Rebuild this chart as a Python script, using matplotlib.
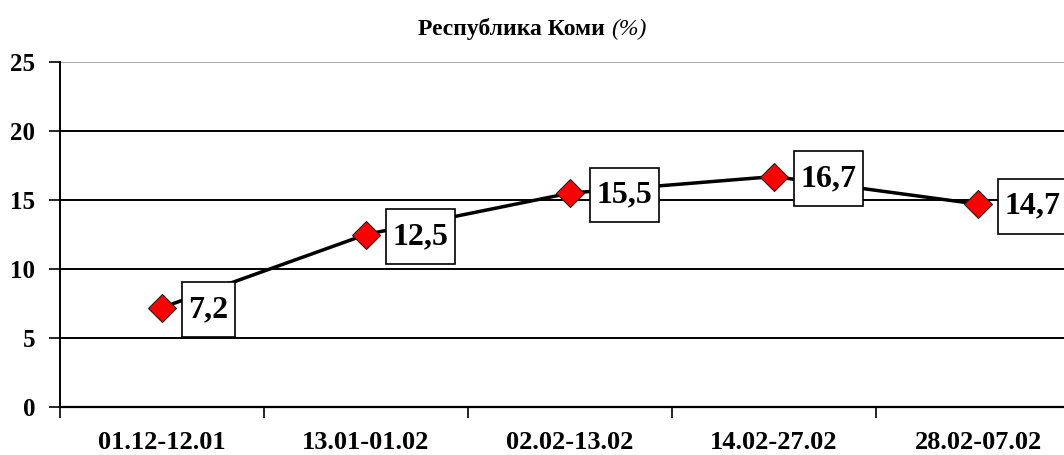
import matplotlib.pyplot as plt
from matplotlib.path import Path

periods = ["01.12-12.01", "13.01-01.02", "02.02-13.02", "14.02-27.02", "28.02-07.02"]
values = [7.2, 12.5, 15.5, 16.7, 14.7]
yticks = [0, 5, 10, 15, 20, 25]

plt.rcParams["font.family"] = ["Liberation Serif", "DejaVu Serif"]


def tall_box(x0, y0, width, height, mutation_size):
    # label box with more room above and below the number than at its sides
    px, py = 0.2 * mutation_size, 0.4 * mutation_size
    l, b, r, t = x0 - px, y0 - py, x0 + width + px, y0 + height + py
    return Path([(l, b), (r, b), (r, t), (l, t), (l, b)], closed=True)


fig = plt.figure(figsize=(10.64, 4.55), dpi=100)
# plot area runs past the right edge of the picture, as in the original
ax = fig.add_axes([60 / 1064, 48 / 455, 1020 / 1064, 345 / 455])

x = list(range(len(periods)))
ax.plot(x, values, color="black", lw=2.5, zorder=3,
        marker="D", ms=14, mfc="#ff0000", mec="#222222", mew=0.8)

for xi, v in zip(x, values):
    ax.annotate(f"{v:.1f}".replace(".", ","), (xi, v), xytext=(19, -1.5),
                textcoords="offset points", ha="left", va="center",
                fontsize=23, fontweight="bold", zorder=5,
                bbox=dict(boxstyle=tall_box, fc="white", ec="black", lw=1.2))

ax.set_xlim(-0.5, len(periods) - 0.5)
ax.set_ylim(0, 25)
ax.set_yticks(yticks)
ax.set_yticklabels([str(t) for t in yticks], fontsize=18, fontweight="bold")
ax.set_xticks([i + 0.5 for i in range(-1, len(periods))], minor=False)
ax.set_xticklabels([])
ax.set_xticks(x, minor=True)
ax.set_xticklabels(periods, minor=True, fontsize=19, fontweight="bold")
ax.tick_params(axis="x", which="major", length=8, width=1.2, direction="out")
ax.tick_params(axis="x", which="minor", length=0, pad=17)
ax.tick_params(axis="y", length=8, width=1.2, direction="out", pad=10)

for t in yticks[1:-1]:
    ax.axhline(t, color="black", lw=1.4, zorder=1)
ax.axhline(25, color="#999999", lw=1.2, zorder=1)

for s in ["top", "right"]:
    ax.spines[s].set_visible(False)
ax.spines["left"].set_linewidth(1.4)
ax.spines["bottom"].set_linewidth(1.6)

title_y = 1 - 29 / 455
t1 = fig.text(0.0, title_y, "Республика Коми ", ha="left", va="center",
              fontsize=17, fontweight="bold")
t2 = fig.text(0.0, title_y, "(%)", ha="left", va="center",
              fontsize=17, fontstyle="italic")
# centre the two-part title over the picture
fig.canvas.draw()
r = fig.canvas.get_renderer()
w1 = t1.get_window_extent(r).width
w2 = t2.get_window_extent(r).width
x0 = (532 - (w1 + w2) / 2) / 1064
t1.set_x(x0)
t2.set_x(x0 + w1 / 1064)

fig.savefig("out.png", dpi=100)
